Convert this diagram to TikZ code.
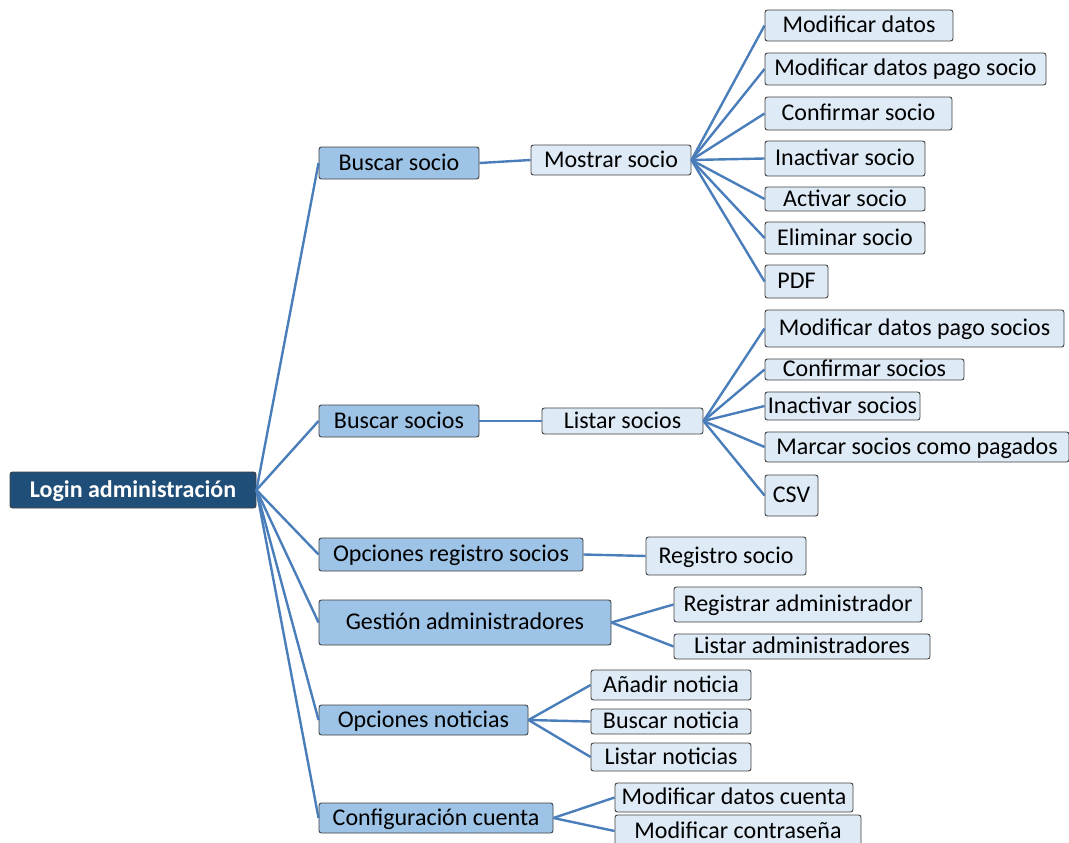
\documentclass[tikz,border=0pt]{standalone}
\usepackage{fontspec}
\setmainfont{Carlito}
\definecolor{rootfill}{RGB}{31,78,121}
\definecolor{midfill}{RGB}{157,195,230}
\definecolor{leaffill}{RGB}{222,235,247}
\definecolor{edgecol}{RGB}{64,64,64}
\definecolor{linkcol}{RGB}{74,126,187}
\tikzset{
  box/.style={draw=edgecol, line width=0.9pt, rounded corners=2.5pt, inner sep=0pt,
    text height=16pt, text depth=2pt, align=center, font=\fontsize{24}{27}\selectfont},
  rootbox/.style={box, fill=rootfill, text=white, font=\fontsize{24}{27}\selectfont\bfseries},
  midbox/.style={box, fill=midfill},
  leafbox/.style={box, fill=leaffill},
  link/.style={draw=linkcol, line width=2.4pt}
}
\begin{document}
\begin{tikzpicture}[x=1pt,y=-1pt]
\useasboundingbox (0,0) rectangle (1069,843);
% root
\node[rootbox, minimum width=246pt, minimum height=36pt] (root) at (133,490) {Login administración};
% level 1
\node[midbox, minimum width=160pt, minimum height=32pt] (bs) at (399,163) {Buscar socio};
\node[midbox, minimum width=160pt, minimum height=32pt] (bss) at (399,421) {Buscar socios};
\node[midbox, minimum width=264pt, minimum height=33pt] (ors) at (451,554.5) {Opciones registro socios};
\node[midbox, minimum width=292pt, minimum height=45pt] (ga) at (465,622.5) {Gestión administradores};
\node[midbox, minimum width=209pt, minimum height=30pt] (on) at (423.5,720) {Opciones noticias};
\node[midbox, minimum width=234pt, minimum height=30pt] (cc) at (436,818) {Configuración cuenta};
% level 2
\node[leafbox, minimum width=160pt, minimum height=30pt] (ms) at (611,160) {Mostrar socio};
\node[leafbox, minimum width=161pt, minimum height=26pt] (ls) at (622.5,421) {Listar socios};
\node[leafbox, minimum width=160pt, minimum height=38pt] (rs) at (726,556) {Registro socio};
\node[leafbox, minimum width=248pt, minimum height=35pt] (ra) at (798,604.5) {Registrar administrador};
\node[leafbox, minimum width=256pt, minimum height=25pt] (la) at (802,646.5) {Listar administradores};
\node[leafbox, minimum width=160pt, minimum height=30pt] (an) at (671,685) {Añadir noticia};
\node[leafbox, minimum width=160pt, minimum height=25pt] (bn) at (671,721.5) {Buscar noticia};
\node[leafbox, minimum width=160pt, minimum height=28pt] (ln) at (671,757) {Listar noticias};
\node[leafbox, minimum width=238pt, minimum height=29pt] (mdc) at (734,797.5) {Modificar datos cuenta};
\node[leafbox, minimum width=246pt, minimum height=32pt] (mc) at (738,831) {Modificar contraseña};
% level 3 (Mostrar socio)
\node[leafbox, minimum width=188pt, minimum height=31pt] (md) at (859,25.5) {Modificar datos};
\node[leafbox, minimum width=281pt, minimum height=32pt] (mdp) at (905.5,69) {Modificar datos pago socio};
\node[leafbox, minimum width=187pt, minimum height=33pt] (cs) at (858.5,113.5) {Confirmar socio};
\node[leafbox, minimum width=160pt, minimum height=35pt] (is) at (845,158.5) {Inactivar socio};
\node[leafbox, minimum width=160pt, minimum height=24pt] (as) at (845,199) {Activar socio};
\node[leafbox, minimum width=160pt, minimum height=32pt] (es) at (845,238) {Eliminar socio};
\node[leafbox, minimum width=63pt, minimum height=33pt] (pdf) at (796.5,281.5) {PDF};
% level 3 (Listar socios)
\node[leafbox, minimum width=299pt, minimum height=37pt] (mdps) at (914.5,328.5) {Modificar datos pago socios};
\node[leafbox, minimum width=199pt, minimum height=21pt, text height=15pt, text depth=2pt] (css) at (864.5,369.5) {Confirmar socios};
\node[leafbox, minimum width=155pt, minimum height=28pt] (iss) at (842.5,406) {Inactivar socios};
\node[leafbox, minimum width=304pt, minimum height=30pt] (msp) at (917,447) {Marcar socios como pagados};
\node[leafbox, minimum width=53pt, minimum height=41pt] (csv) at (791.5,495.5) {CSV};
% connectors
\foreach \n in {bs,bss,ors,ga,on,cc} \draw[link] (root.east) -- (\n.west);
\draw[link] (bs.east) -- (ms.west);
\draw[link] (bss.east) -- (ls.west);
\draw[link] (ors.east) -- (rs.west);
\foreach \n in {ra,la} \draw[link] (ga.east) -- (\n.west);
\foreach \n in {an,bn,ln} \draw[link] (on.east) -- (\n.west);
\foreach \n in {mdc,mc} \draw[link] (cc.east) -- (\n.west);
\foreach \n in {md,mdp,cs,is,as,es,pdf} \draw[link] (ms.east) -- (\n.west);
\foreach \n in {mdps,css,iss,msp,csv} \draw[link] (ls.east) -- (\n.west);
\end{tikzpicture}
\end{document}
